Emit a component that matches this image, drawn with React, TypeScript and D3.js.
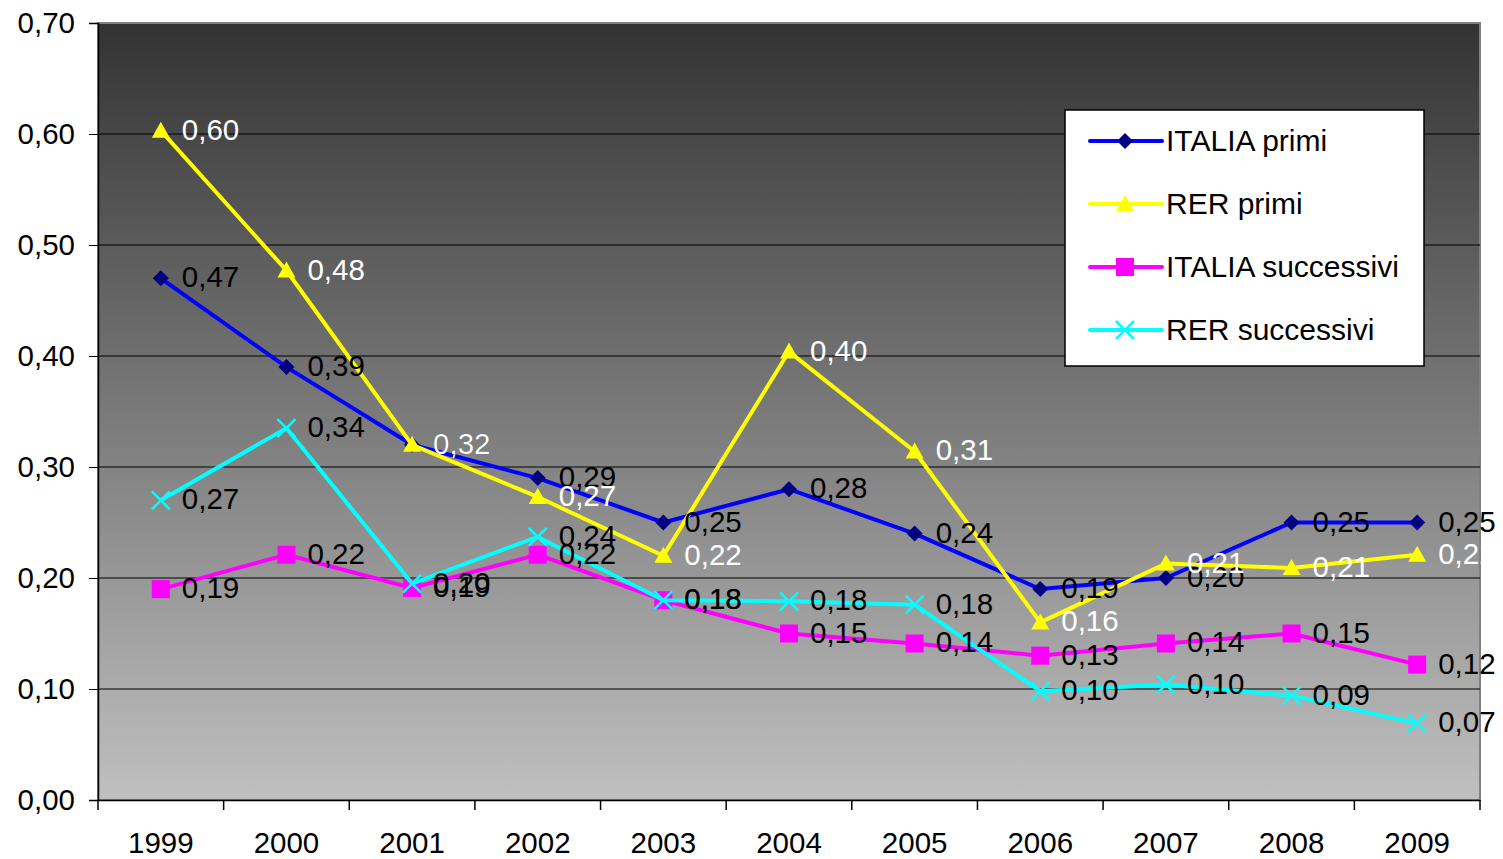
import React, { useEffect, useRef } from 'react'
import * as d3 from 'd3'

const years = ['1999', '2000', '2001', '2002', '2003', '2004', '2005', '2006', '2007', '2008', '2009']
const italiaPrimi = [0.47, 0.39, 0.32, 0.29, 0.25, 0.28, 0.24, 0.19, 0.2, 0.25, 0.25]
const rerPrimi = [0.603, 0.477, 0.32, 0.273, 0.22, 0.404, 0.314, 0.16, 0.213, 0.209, 0.221]
const italiaSucc = [0.19, 0.221, 0.191, 0.221, 0.18, 0.15, 0.141, 0.13, 0.141, 0.15, 0.122]
const rerSucc = [0.27, 0.335, 0.195, 0.237, 0.18, 0.179, 0.176, 0.098, 0.104, 0.094, 0.069]
const yTicks = [0, 0.1, 0.2, 0.3, 0.4, 0.5, 0.6, 0.7]

const series = [
  { name: 'ITALIA primi', values: italiaPrimi, color: '#0000ff', marker: 'diamond', fill: '#000080', label: '#000' },
  { name: 'RER primi', values: rerPrimi, color: '#ffff00', marker: 'triangle', fill: '#ffff00', label: '#fff' },
  { name: 'ITALIA successivi', values: italiaSucc, color: '#ff00ff', marker: 'square', fill: '#ff00ff', label: '#000' },
  { name: 'RER successivi', values: rerSucc, color: '#00ffff', marker: 'cross', fill: '#00ffff', label: '#000' },
]

const fmt = (v: number) => v.toFixed(2).replace('.', ',')

function drawMarker(g: any, kind: string, x: number, y: number, fill: string) {
  if (kind === 'diamond') {
    g.append('path').attr('d', `M${x},${y - 8}L${x + 8},${y}L${x},${y + 8}L${x - 8},${y}Z`).attr('fill', fill)
  } else if (kind === 'triangle') {
    g.append('path').attr('d', `M${x},${y - 9}L${x + 9},${y + 7}L${x - 9},${y + 7}Z`).attr('fill', fill)
  } else if (kind === 'square') {
    g.append('rect').attr('x', x - 9).attr('y', y - 9).attr('width', 18).attr('height', 18).attr('fill', fill)
  } else {
    g.append('path').attr('d', `M${x - 9},${y - 9}L${x + 9},${y + 9}M${x + 9},${y - 9}L${x - 9},${y + 9}`)
      .attr('stroke', fill).attr('stroke-width', 2.5)
  }
}

export default function App() {
  const ref = useRef<SVGSVGElement>(null)
  useEffect(() => {
    const svg = d3.select(ref.current)
    svg.selectAll('*').remove()
    const left = 98, right = 1480, top = 23, bottom = 800
    const font = '"Liberation Sans", Arial, sans-serif'
    const fs = 29.5
    const x = d3.scaleBand().domain(years).range([left, right])
    const y = d3.scaleLinear().domain([0, 0.7]).range([bottom, top])

    const defs = svg.append('defs')
    const grad = defs.append('linearGradient').attr('id', 'bg').attr('x1', 0).attr('y1', 0).attr('x2', 0).attr('y2', 1)
    grad.append('stop').attr('offset', '0%').attr('stop-color', '#333333')
    grad.append('stop').attr('offset', '100%').attr('stop-color', '#c0c0c0')

    svg.append('rect').attr('x', left).attr('y', top).attr('width', right - left).attr('height', bottom - top)
      .attr('fill', 'url(#bg)').attr('stroke', '#808080').attr('stroke-width', 2)

    // grid
    svg.append('g').selectAll('line').data(yTicks.slice(1, -1)).enter().append('line')
      .attr('x1', left).attr('x2', right).attr('y1', d => y(d)).attr('y2', d => y(d))
      .attr('stroke', '#000').attr('stroke-width', 1)

    // axes
    const ya = svg.append('g').attr('transform', `translate(${left},0)`)
      .call(d3.axisLeft(y).tickValues(yTicks).tickSize(9).tickPadding(14).tickFormat(d => fmt(+d)))
    ya.select('.domain').attr('stroke', '#000').attr('stroke-width', 1.5)
    ya.selectAll('text').attr('font-family', font).attr('font-size', fs).attr('fill', '#000')

    const xa = svg.append('g').attr('transform', `translate(0,${bottom})`)
      .call(d3.axisBottom(x).tickSize(0).tickPadding(32))
    xa.select('.domain').attr('stroke', '#000').attr('stroke-width', 1.5)
    xa.selectAll('text').attr('font-family', font).attr('font-size', fs).attr('fill', '#000')
    const bounds = years.map(yr => x(yr) as number).concat([right])
    svg.append('g').selectAll('line').data(bounds).enter().append('line')
      .attr('x1', d => d).attr('x2', d => d).attr('y1', bottom).attr('y2', bottom + 10)
      .attr('stroke', '#000').attr('stroke-width', 1.5)

    const cx = (i: number) => (x(years[i]) as number) + x.bandwidth() / 2
    const line = d3.line<number>().x((_, i) => cx(i)).y(d => y(d))

    series.forEach(s => {
      const g = svg.append('g')
      g.append('path').datum(s.values).attr('d', line).attr('fill', 'none')
        .attr('stroke', s.color).attr('stroke-width', 4).attr('stroke-linejoin', 'round')
      s.values.forEach((v, i) => drawMarker(g, s.marker, cx(i), y(v), s.fill))
    })
    series.forEach(s => {
      svg.append('g').selectAll('text').data(s.values).enter().append('text')
        .attr('x', (_, i) => cx(i) + 21).attr('y', d => y(d) + 9)
        .attr('font-family', font).attr('font-size', fs).attr('fill', s.label)
        .text(d => fmt(d))
    })

    // legend
    const lg = svg.append('g').attr('transform', 'translate(1065,110)')
    lg.append('rect').attr('width', 359).attr('height', 256).attr('fill', '#fff').attr('stroke', '#000').attr('stroke-width', 1.5)
    series.forEach((s, i) => {
      const ly = 31 + i * 63
      lg.append('line').attr('x1', 25).attr('x2', 97).attr('y1', ly).attr('y2', ly)
        .attr('stroke', s.color).attr('stroke-width', 4).attr('stroke-linecap', 'round')
      drawMarker(lg, s.marker, 60, ly, s.fill)
      lg.append('text').attr('x', 101).attr('y', ly + 10).attr('font-family', font).attr('font-size', 30)
        .attr('fill', '#000').text(s.name)
    })
  }, [])
  return (
    <svg ref={ref} width={1503} height={859} style={{ position: 'absolute', left: 0, top: 0 }} />
  )
}
